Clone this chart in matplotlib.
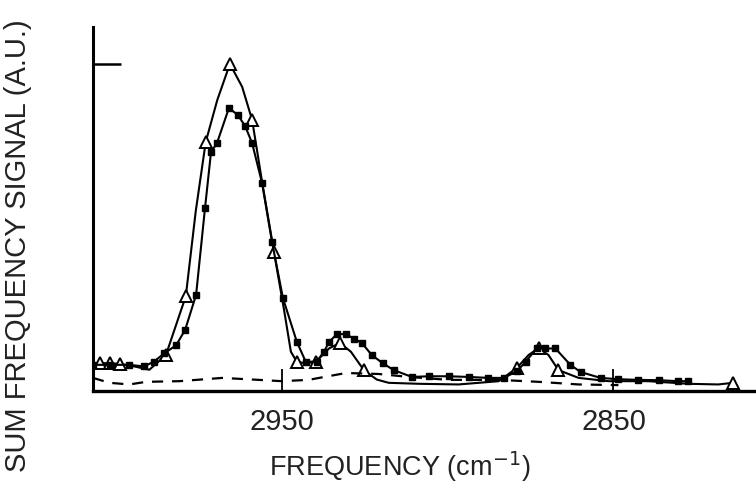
import matplotlib.pyplot as plt

plt.rcParams['font.family'] = ['Liberation Sans', 'DejaVu Sans']

# open-triangle trace (smooth line), frequency in cm-1, signal in a.u.
tri_freq = [3007, 3005, 3002, 2999, 2994.5, 2990, 2985, 2979, 2976, 2973, 2969.5,
            2965.7, 2962, 2959, 2956, 2952.4, 2949.4, 2947.3, 2945.5, 2942.8, 2939.8,
            2935.8, 2932.5, 2929.2, 2925.3, 2921.4, 2917.8, 2908.7, 2896.7, 2884.6,
            2879.2, 2875.6, 2872.6, 2869.6, 2866.6, 2860.5, 2851.5, 2839.5, 2827.4,
            2818.4, 2813.9]
tri_sig = [0.075, 0.085, 0.085, 0.083, 0.075, 0.065, 0.11, 0.29, 0.55, 0.761, 0.89,
           1.0, 0.93, 0.829, 0.64, 0.425, 0.25, 0.12, 0.089, 0.085, 0.089,
           0.13, 0.147, 0.12, 0.064, 0.035, 0.025, 0.022, 0.02, 0.03,
           0.07, 0.11, 0.131, 0.11, 0.064, 0.04, 0.03, 0.03, 0.022,
           0.02, 0.025]
tri_mark_freq = [3005, 3002, 2999, 2985, 2979, 2973, 2965.7, 2959, 2952.4, 2945.5,
                 2939.8, 2932.5, 2925.3, 2879.2, 2872.6, 2866.6, 2813.9]
tri_mark_sig = [0.085, 0.085, 0.083, 0.11, 0.29, 0.761, 1.0, 0.829, 0.425, 0.089,
                0.089, 0.147, 0.064, 0.07, 0.131, 0.064, 0.025]

# filled-square trace
sq_freq = [3007, 3002, 2996, 2991.6, 2988.6, 2985.5, 2981.9, 2979.2, 2975.9, 2973.2,
           2971.4, 2969.6, 2966, 2963.3, 2961.1, 2959, 2956, 2953, 2949.7, 2945.5,
           2942.8, 2939.5, 2937.3, 2935.8, 2933.4, 2930.7, 2928.3, 2925.9, 2922.9,
           2919.6, 2916.3, 2910.8, 2905.7, 2899.7, 2893.7, 2887.7, 2883.1, 2879.2,
           2876.5, 2873.2, 2870.5, 2867.5, 2863, 2859.9, 2853.9, 2848.5, 2842.5,
           2836.4, 2830.4, 2827.4]
sq_sig = [0.08, 0.08, 0.08, 0.075, 0.09, 0.115, 0.14, 0.187, 0.294, 0.56,
          0.73, 0.758, 0.865, 0.844, 0.81, 0.758, 0.636, 0.456, 0.284, 0.15,
          0.089, 0.09, 0.12, 0.15, 0.174, 0.174, 0.16, 0.147, 0.11,
          0.085, 0.064, 0.043, 0.045, 0.045, 0.043, 0.04, 0.04, 0.06,
          0.089, 0.13, 0.13, 0.13, 0.08, 0.058, 0.04, 0.036, 0.034,
          0.033, 0.03, 0.03]

# dashed reference trace
ref_freq = [3007, 3002, 2996, 2991, 2981, 2968, 2957, 2950, 2942, 2930.7, 2920.8,
            2911.7, 2899.7, 2884.6, 2872.6, 2860.5, 2848.5]
ref_sig = [0.04, 0.025, 0.02, 0.028, 0.03, 0.04, 0.034, 0.03, 0.034, 0.055, 0.052,
           0.043, 0.034, 0.034, 0.028, 0.02, 0.018]

xticks = [2950, 2850]
xticklabels = ['2950', '2850']

fig = plt.figure(figsize=(7.56, 4.92), dpi=100)
ax = fig.add_axes([0.123, 0.2053, 0.877, 0.7398])

ax.plot(tri_freq, tri_sig, color='black', lw=1.5)
ax.plot(tri_mark_freq, tri_mark_sig, ls='none', marker='^', ms=9,
        mfc='white', mec='black', mew=1.4)
ax.plot(sq_freq, sq_sig, color='black', lw=1.5, marker='s', ms=4,
        mfc='black', mec='black')
ax.plot(ref_freq, ref_sig, color='black', lw=1.6, ls=(0, (5, 4)))

ax.set_xlim(3007, 2807)
ax.set_ylim(0, 1.113)
ax.spines['top'].set_visible(False)
ax.spines['right'].set_visible(False)
ax.spines['left'].set_linewidth(2.2)
ax.spines['bottom'].set_linewidth(2.4)

ax.set_yticks([1.0])
ax.set_yticklabels([])
ax.tick_params(axis='y', direction='in', length=20, width=1.8)
ax.set_xticks(xticks)
ax.set_xticklabels(xticklabels, fontsize=21, color='#222222')
ax.tick_params(axis='x', direction='in', length=16, width=1.3, pad=12)

ax.set_xlabel('FREQUENCY (cm$^{-1}$)', fontsize=19.5, color='#222222')
ax.xaxis.set_label_coords(0.463, -0.16)
fig.text(0.024, 0.5, 'SUM FREQUENCY SIGNAL (A.U.)', rotation=90, fontsize=21,
         color='#222222', ha='center', va='center')

fig.savefig('out.png', dpi=100)
